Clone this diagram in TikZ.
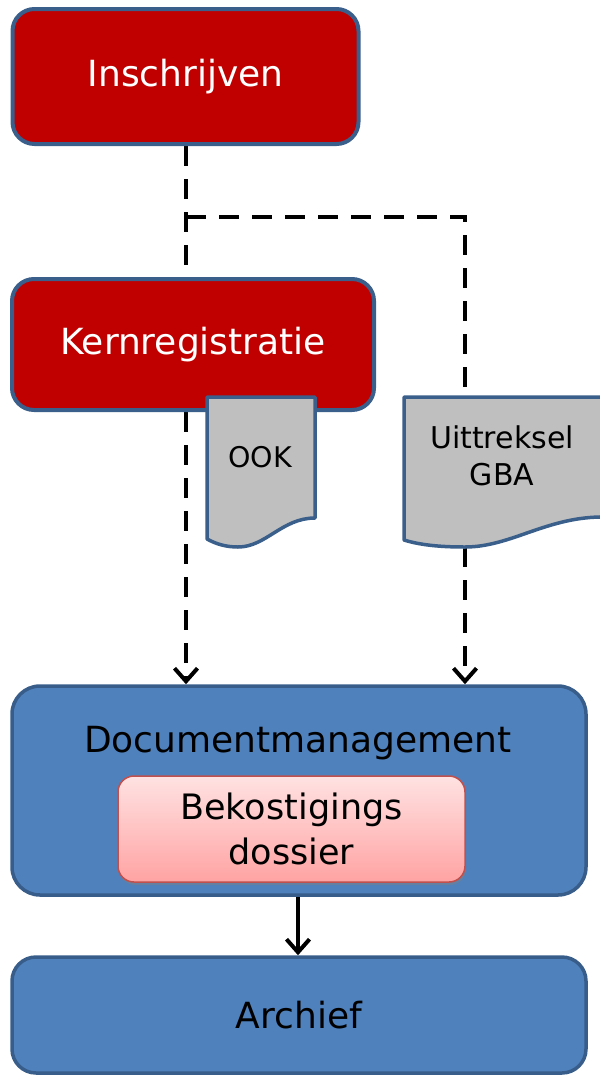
\documentclass[tikz,border=0pt]{standalone}
\usepackage{fontspec}
\setmainfont{DejaVu Sans}
\usetikzlibrary{arrows.meta,shadows,backgrounds}
\definecolor{redfill}{HTML}{C00000}
\definecolor{edge}{HTML}{3A5F8B}
\definecolor{bluefill}{HTML}{4F81BD}
\definecolor{blueedge}{HTML}{385D8A}
\definecolor{docfill}{HTML}{BFBFBF}
\definecolor{pinktop}{HTML}{FFE2E2}
\definecolor{pinkbot}{HTML}{FFA3A3}
\definecolor{pinkedge}{HTML}{C0504D}
\begin{document}
\begin{tikzpicture}[x=1pt,y=-1pt,
  redbox/.style={draw=edge, line width=4pt, fill=redfill, rounded corners=22pt,
    text=white, font=\fontsize{36}{43}\selectfont, inner sep=0pt},
  bluebox/.style={draw=blueedge, line width=3.5pt, fill=bluefill, rounded corners=28pt,
    inner sep=0pt, font=\fontsize{36}{43}\selectfont},
  docshape/.style={draw=edge, line width=3.5pt, fill=docfill, line join=round},
  doctext/.style={align=center, inner sep=0pt, font=\fontsize{30}{37}\selectfont},
  pinkbox/.style={draw=pinkedge, line width=1.5pt, top color=pinktop, bottom color=pinkbot,
    rounded corners=16pt, inner sep=0pt, align=center, font=\fontsize{35}{45}\selectfont,
    drop shadow={shadow xshift=1pt, shadow yshift=-3pt, opacity=0.45}},
  dashline/.style={line width=4pt, dash pattern=on 20pt off 13pt},
  tip/.style={-{Straight Barb[length=13pt,width=23pt]}}
]
\useasboundingbox (0,0) rectangle (600,1077);

% red process boxes
\node[redbox, minimum width=346pt, minimum height=135pt] (ins) at (185.5,76.5) {Inschrijven};
\node[redbox, minimum width=362pt, minimum height=131pt] (kern) at (193,344.5) {Kernregistratie};

% document shapes
\path[docshape] (207,397) -- (315,397) -- (315,518)
  .. controls (282,518) and (266,547) .. (238,547)
  .. controls (226,547) and (216,544) .. (207,539) -- cycle;
\path[docshape] (404,397) -- (606,397) -- (606,516) -- (600,517)
  .. controls (545,518) and (510,547) .. (465,547)
  .. controls (440,547) and (420,545) .. (404,540) -- cycle;
\node[doctext, font=\fontsize{28.5}{37}\selectfont] (ook) at (260,457) {OOK};
\node[doctext] (gba) at (502,456) {Uittreksel\\GBA};

% blue boxes
\node[bluebox, minimum width=574pt, minimum height=209pt] (dm) at (299,790.5) {};
\node[inner sep=0pt, font=\fontsize{36}{43}\selectfont] (dmlabel) at (298,743) {Documentmanagement};
\node[pinkbox, minimum width=347pt, minimum height=106pt] (bek) at (291.5,829) {Bekostigings\\dossier};
\node[bluebox, rounded corners=24pt, minimum width=574pt, minimum height=116pt] (arch) at (299,1015) {Archief};

% coordinates
\coordinate (branch) at (186,217);
\coordinate (gbatop) at (465,397);
\coordinate (gbabot) at (465,547);

\begin{scope}[on background layer]
  \draw[dashline] (ins.south -| branch) -- (branch |- kern.north);
  \draw[dashline] (branch) -| (gbatop);
  \draw[dashline, tip] (kern.south -| branch) -- (branch |- dm.north);
  \draw[dashline, tip] (gbabot) -- (gbabot |- dm.north);
  \draw[line width=4pt, tip] (dm.south -| 298,0) -- (arch.north -| 298,0);
\end{scope}
\end{tikzpicture}
\end{document}
